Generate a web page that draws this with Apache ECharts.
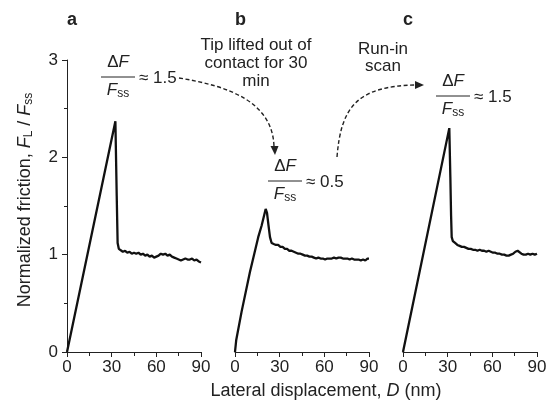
<!DOCTYPE html>
<html>
<head>
<meta charset="utf-8">
<script src="https://cdn.jsdelivr.net/npm/echarts@6/dist/echarts.min.js"></script>
<style>
  html, body { margin: 0; padding: 0; background: #fff; }
  #chart { width: 556px; height: 405px; }
</style>
</head>
<body>
<div id="chart"></div>
<script>
// panel a: first scan
const xA = [0, 32.5, 33.4, 34, 34.8, 36, 37.5, 39, 40.5, 42, 43.5, 45, 46.5, 48, 49.5, 51, 52.5, 54, 55.5, 57, 58.5, 60, 61.5, 63, 64.5, 66, 67.5, 69, 70.5, 72, 73.5, 75, 76.5, 78, 79.5, 81, 82.5, 84, 85.5, 87, 88.5, 90];
const yA = [0, 2.37, 1.6, 1.12, 1.06, 1.04, 1.03, 1.04, 1.02, 1.03, 1.01, 1.02, 1.01, 1.02, 1.00, 1.01, 0.99, 1.00, 0.98, 0.99, 0.97, 0.98, 0.99, 1.01, 1.00, 1.01, 0.99, 1.00, 0.98, 0.97, 0.96, 0.95, 0.94, 0.95, 0.96, 0.95, 0.95, 0.96, 0.94, 0.95, 0.93, 0.92];

// panel b: after lifting the tip for 30 min
const xB = [0, 0.8, 4.5, 10, 15.6, 17.9, 19.5, 20.6, 21.5, 22.5, 23.5, 24.6, 26, 27.5, 29, 30.5, 32, 33.5, 35, 36.5, 38, 39.5, 41, 42.5, 44, 45.5, 47, 48.5, 50, 51.5, 53, 54.5, 56, 57.5, 59, 60.5, 62, 63.5, 65, 66.5, 68, 69.5, 71, 72.5, 74, 75.5, 77, 78.5, 80, 81.5, 83, 84.5, 86, 87.5, 89, 90];
const yB = [0, 0.12, 0.42, 0.82, 1.18, 1.30, 1.40, 1.47, 1.43, 1.30, 1.18, 1.12, 1.11, 1.10, 1.10, 1.08, 1.08, 1.06, 1.06, 1.04, 1.04, 1.03, 1.02, 1.01, 1.01, 1.00, 0.99, 0.99, 0.98, 0.98, 0.97, 0.96, 0.97, 0.96, 0.96, 0.95, 0.96, 0.96, 0.96, 0.97, 0.96, 0.97, 0.97, 0.96, 0.96, 0.96, 0.95, 0.96, 0.95, 0.95, 0.95, 0.94, 0.95, 0.94, 0.96, 0.96];

// panel c: run-in scan
const xC = [0, 31.1, 31.8, 32.3, 32.7, 33.5, 35, 36.5, 38, 39.5, 41, 42.5, 44, 45.5, 47, 48.5, 50, 51.5, 53, 54.5, 56, 57.5, 59, 60.5, 62, 63.5, 65, 66.5, 68, 69.5, 71, 72.5, 74, 75.5, 77, 78, 79.5, 81, 82.5, 84, 85.5, 87, 88.5, 90];
const yC = [0, 2.30, 1.80, 1.40, 1.18, 1.14, 1.12, 1.10, 1.09, 1.08, 1.08, 1.07, 1.06, 1.06, 1.05, 1.05, 1.04, 1.05, 1.04, 1.04, 1.03, 1.04, 1.03, 1.02, 1.02, 1.01, 1.01, 1.00, 1.00, 0.99, 0.99, 1.00, 1.01, 1.03, 1.04, 1.04, 1.01, 1.00, 1.00, 1.01, 1.00, 1.01, 1.00, 1.01];

const xTicks = [0, 30, 60, 90];
const yTicks = [0, 1, 2, 3];
const panelLetters = ["a", "b", "c"];

const ink = "#222";
const fontFamily = "'Liberation Sans', Arial, sans-serif";
const gridLefts = [67, 235, 403];

function pairs(xs, ys) {
  return xs.map((x, i) => [x, ys[i]]);
}

const grids = gridLefts.map((left) => ({
  left: left,
  top: 60,
  width: 134,
  height: 292,
}));

const xAxes = gridLefts.map((_, i) => ({
  type: "value",
  gridIndex: i,
  min: xTicks[0],
  max: xTicks[xTicks.length - 1],
  interval: 30,
  axisLine: { show: true, lineStyle: { color: ink, width: 1 } },
  axisTick: { show: true, length: 5, lineStyle: { color: ink } },
  minorTick: { show: true, splitNumber: 2, length: 4, lineStyle: { color: ink } },
  splitLine: { show: false },
  axisLabel: {
    color: ink,
    fontSize: 17,
    fontFamily: fontFamily,
    margin: 7,
    formatter: (v) => (xTicks.includes(v) ? String(v) : ""),
  },
}));

const yAxes = gridLefts.map((_, i) => ({
  type: "value",
  gridIndex: i,
  min: yTicks[0],
  max: yTicks[yTicks.length - 1],
  interval: 1,
  show: i === 0,
  axisLine: { show: true, lineStyle: { color: ink, width: 1 } },
  axisTick: { show: true, length: 5, lineStyle: { color: ink } },
  minorTick: { show: true, splitNumber: 2, length: 3, lineStyle: { color: ink } },
  splitLine: { show: false },
  axisLabel: {
    color: ink,
    fontSize: 17,
    fontFamily: fontFamily,
    margin: 9,
  },
}));

const seriesData = [pairs(xA, yA), pairs(xB, yB), pairs(xC, yC)];
const series = seriesData.map((data, i) => ({
  type: "line",
  xAxisIndex: i,
  yAxisIndex: i,
  data: data,
  showSymbol: false,
  smooth: false,
  lineStyle: { color: "#111", width: 2.3 },
  animation: false,
}));

function richFor(size) {
  return {
    i: { fontStyle: "italic", fontSize: size, fontFamily: fontFamily, fill: ink, lineHeight: 20 },
    u: { fontSize: size, fontFamily: fontFamily, fill: ink, lineHeight: 20 },
    sub: { fontSize: 12, fontFamily: fontFamily, fill: ink, lineHeight: 8, verticalAlign: "bottom" },
  };
}

function textEl(x, y, text, extra) {
  const size = (extra && extra.fontSize) || 17;
  return {
    type: "text",
    x: x,
    y: y,
    style: Object.assign({
      text: text,
      fontSize: size,
      fontFamily: fontFamily,
      fill: ink,
      align: "center",
      verticalAlign: "middle",
      rich: richFor(size),
    }, extra || {}),
  };
}

// fraction ΔF / F_ss ≈ value, centred on cx
function fraction(cx, cy, value) {
  return [
    textEl(cx, cy - 15, "{u|Δ}{i|F}"),
    {
      type: "line",
      shape: { x1: cx - 17, y1: cy, x2: cx + 17, y2: cy },
      style: { stroke: ink, lineWidth: 1 },
    },
    textEl(cx, cy + 13, "{i|F}{sub|ss}"),
    textEl(cx + 21, cy + 1, "≈ " + value, { align: "left" }),
  ];
}

const graphics = [].concat(
  panelLetters.map((t, i) =>
    textEl(gridLefts[i], 20, t, { align: "left", fontWeight: "bold", fontSize: 18 })
  ),
  fraction(118, 77, "1.5"),
  fraction(285, 181, "0.5"),
  fraction(453, 96, "1.5"),
  [
    textEl(256, 63, "Tip lifted out of\ncontact for 30\nmin", { lineHeight: 18 }),
    textEl(383, 58, "Run-in\nscan", { lineHeight: 17 }),
    textEl(326, 391, "Lateral displacement, {i|D} (nm)", { fontSize: 18 }),
    Object.assign(textEl(25, 200, "Normalized friction, {i|F}{sub|L} / {i|F}{sub|ss}", { fontSize: 18 }), {
      rotation: Math.PI / 2,
    }),
    {
      type: "bezierCurve",
      shape: { x1: 179, y1: 78, cpx1: 229, cpy1: 86, cpx2: 273, cpy2: 102, x2: 274, y2: 147 },
      style: { stroke: ink, lineWidth: 1.4, lineDash: [4, 2.5], fill: null },
    },
    {
      type: "polygon",
      shape: { points: [[275, 155], [270.5, 146], [278.5, 146]] },
      style: { fill: ink },
    },
    {
      type: "bezierCurve",
      shape: { x1: 337, y1: 157, cpx1: 341, cpy1: 108, cpx2: 356, cpy2: 86, x2: 416, y2: 85 },
      style: { stroke: ink, lineWidth: 1.4, lineDash: [4, 2.5], fill: null },
    },
    {
      type: "polygon",
      shape: { points: [[424, 85], [415, 81], [415, 89]] },
      style: { fill: ink },
    },
  ]
);

const chart = echarts.init(document.getElementById("chart"), null, { renderer: "canvas" });
chart.setOption({
  backgroundColor: "#fff",
  animation: false,
  grid: grids,
  xAxis: xAxes,
  yAxis: yAxes,
  series: series,
  graphic: graphics,
});

window.addEventListener("resize", function () {
  chart.resize();
});
</script>
</body>
</html>
